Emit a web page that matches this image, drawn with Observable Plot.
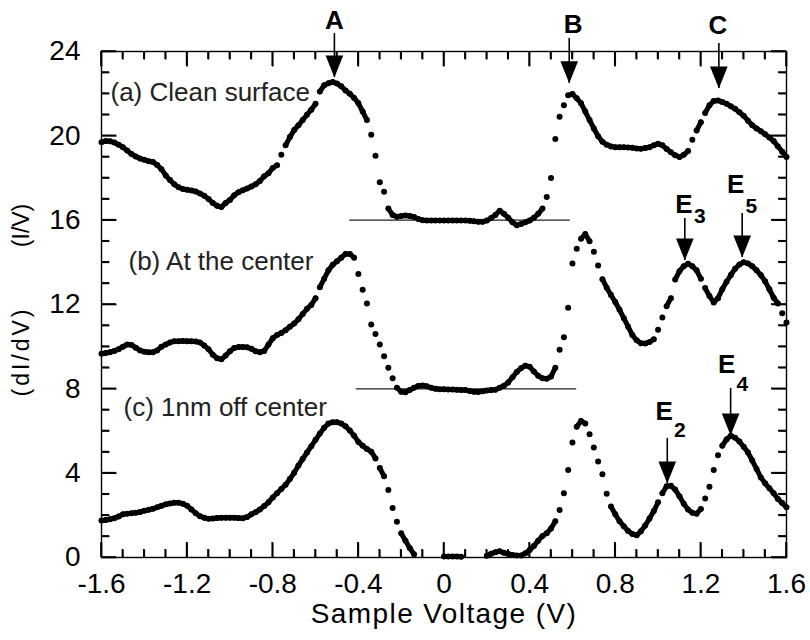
<!DOCTYPE html>
<html>
<head>
<meta charset="utf-8">
<script src="https://cdn.jsdelivr.net/npm/d3@7"></script>
<script src="https://cdn.jsdelivr.net/npm/@observablehq/plot@0.6"></script>
<style>
  html, body { margin: 0; padding: 0; background: #fff; }
  #chart svg { display: block; }
</style>
</head>
<body>
<div id="chart"></div>
<script>
// Sample voltage grid (V), 0.02 V steps from -1.6 to 1.6
const voltage = d3.range(161).map(i => Math.round((-1.6 + i * 0.02) * 100) / 100);

// (a) Clean surface
const curveA = [
  19.70, 19.76, 19.74, 19.68, 19.58, 19.46, 19.30, 19.14, 19.02, 18.92,
  18.86, 18.80, 18.76, 18.62, 18.42, 18.12, 17.90, 17.70, 17.56, 17.48,
  17.44, 17.41, 17.36, 17.26, 17.16, 17.00, 16.82, 16.68, 16.62, 16.82,
  16.96, 17.18, 17.33, 17.42, 17.50, 17.60, 17.70, 17.86, 18.08, 18.22,
  18.48, 18.60, 19.10, 19.55, 19.94, 20.28, 20.50, 20.75, 21.00, 21.24,
  21.52, 22.10, 22.40, 22.50, 22.55, 22.48, 22.35, 22.15, 22.00, 21.80,
  21.55, 21.15, 20.75, 20.05, 19.06, 17.80, 17.35, 16.55, 16.25, 16.16,
  16.20, 16.22, 16.20, 16.15, 16.05, 16.00, 15.99, 15.98, 15.98, 15.99,
  15.98, 15.99, 15.98, 15.99, 15.99, 15.98, 15.97, 15.95, 15.93, 15.92,
  15.98, 16.10, 16.25, 16.45, 16.30, 16.12, 15.90, 15.76, 15.82, 15.90,
  15.98, 16.12, 16.30, 16.55, 17.10, 18.00, 19.85, 20.90, 21.45, 21.92,
  21.98, 21.78, 21.55, 21.15, 20.75, 20.35, 19.98, 19.72, 19.58, 19.50,
  19.46, 19.46, 19.46, 19.45, 19.43, 19.40, 19.39, 19.42, 19.46, 19.55,
  19.62, 19.55, 19.38, 19.22, 19.08, 19.00, 19.10, 19.28, 19.82, 20.25,
  20.65, 21.08, 21.45, 21.65, 21.68, 21.60, 21.52, 21.40, 21.28, 21.12,
  20.95, 20.72, 20.50, 20.35, 20.22, 20.08, 19.92, 19.75, 19.50, 19.25,
  19.00
];

// (b) At the center
const curveB = [
  9.66, 9.70, 9.74, 9.80, 9.88, 10.00, 10.10, 10.08, 9.95, 9.82,
  9.76, 9.74, 9.74, 9.82, 10.00, 10.10, 10.20, 10.26, 10.26, 10.27,
  10.26, 10.26, 10.24, 10.20, 10.05, 9.88, 9.62, 9.45, 9.40, 9.58,
  9.78, 9.94, 9.98, 9.98, 9.97, 9.90, 9.78, 9.74, 9.80, 10.10,
  10.40, 10.55, 10.65, 10.78, 10.95, 11.10, 11.30, 11.55, 11.80, 11.98,
  12.30, 12.82, 13.22, 13.62, 13.88, 14.05, 14.22, 14.40, 14.40, 14.22,
  13.45, 12.70, 12.05, 11.05, 10.60, 10.10, 9.55, 9.00, 8.50, 8.05,
  7.86, 7.84, 7.95, 8.05, 8.14, 8.16, 8.12, 8.05, 8.00, 7.98,
  7.98, 7.97, 7.97, 7.96, 7.95, 7.94, 7.90, 7.86, 7.85, 7.88,
  7.92, 7.94, 7.96, 8.05, 8.15, 8.30, 8.55, 8.80, 8.98, 9.10,
  9.05, 8.82, 8.62, 8.50, 8.48, 8.58, 9.00, 9.85, 10.45, 11.85,
  13.95, 14.65, 15.12, 15.34, 15.00, 14.50, 13.85, 13.20, 12.80, 12.45,
  12.12, 11.75, 11.35, 10.95, 10.55, 10.30, 10.16, 10.15, 10.22, 10.35,
  10.80, 11.38, 11.92, 12.30, 13.18, 13.58, 13.82, 13.93, 13.82, 13.62,
  13.22, 12.78, 12.40, 12.10, 12.30, 12.72, 13.08, 13.40, 13.70, 13.90,
  14.00, 13.95, 13.82, 13.62, 13.40, 13.10, 12.72, 12.32, 12.05, 11.58,
  11.15
];

// (c) 1nm off center (null = below the axis, not shown)
const curveC = [
  1.76, 1.78, 1.82, 1.86, 1.95, 2.05, 2.08, 2.10, 2.12, 2.16,
  2.22, 2.26, 2.31, 2.38, 2.45, 2.52, 2.56, 2.60, 2.60, 2.55,
  2.45, 2.28, 2.10, 1.96, 1.88, 1.84, 1.85, 1.87, 1.88, 1.88,
  1.88, 1.88, 1.87, 1.86, 1.92, 2.05, 2.15, 2.28, 2.44, 2.62,
  2.85, 3.05, 3.25, 3.45, 3.72, 4.02, 4.36, 4.68, 4.98, 5.28,
  5.58, 5.88, 6.15, 6.35, 6.42, 6.42, 6.35, 6.22, 6.02, 5.78,
  5.48, 5.30, 5.15, 5.02, 4.70, 4.25, 3.85, 3.20, 2.35, 1.70,
  1.15, 0.80, 0.45, 0.15, null, null, null, null, null, null,
  0.05, 0.05, 0.05, 0.05, 0.03, null, null, null, null, null,
  0.08, 0.18, 0.25, 0.30, 0.22, 0.17, 0.12, 0.10, 0.10, 0.20,
  0.35, 0.55, 0.80, 1.02, 1.15, 1.38, 1.72, 2.25, 3.05, 4.15,
  5.45, 6.20, 6.48, 6.35, 5.85, 5.22, 4.55, 3.95, 3.02, 2.42,
  2.05, 1.72, 1.48, 1.26, 1.12, 1.05, 1.25, 1.52, 1.85, 2.20,
  2.62, 3.05, 3.38, 3.40, 3.22, 2.90, 2.55, 2.28, 2.12, 2.08,
  2.30, 2.80, 3.35, 4.15, 4.85, 5.30, 5.60, 5.78, 5.68, 5.50,
  5.25, 4.98, 4.60, 4.20, 3.80, 3.52, 3.28, 3.05, 2.78, 2.58,
  2.38
];

// Curve labels
const curveLabels = ["(a) Clean surface", "(b) At the center", "(c) 1nm off center"];
const curveLabelX = [-1.558, -1.474, -1.497];
const curveLabelY = [22.06, 14.01, 7.10];

// Zero-level reference lines for (a) and (b)
const baseLevel = [16, 8];
const baseFrom = [-0.44, -0.41];
const baseTo = [0.59, 0.62];

// Peak markers
const peakNames = ["A", "B", "C", "E", "E", "E", "E"];
const peakSubs = ["", "", "", "3", "5", "2", "4"];
const peakX = [-0.512, 0.585, 1.284, 1.125, 1.393, 1.043, 1.339];
const peakLabelX = [-0.512, 0.603, 1.280, 1.121, 1.362, 1.028, 1.320];
const peakLabelY = [25.45, 25.28, 25.24, 16.75, 17.69, 6.93, 9.16];
const peakSubY = [null, null, null, 16.20, 16.67, 6.05, 8.23];
const peakTop = [24.86, 24.62, 24.38, 16.08, 16.32, 5.65, 8.02];
const peakTip = [22.77, 22.49, 22.25, 14.09, 14.23, 3.51, 5.79];

// Axes
const xTicks = [-1.6, -1.2, -0.8, -0.4, 0, 0.4, 0.8, 1.2, 1.6];
const xTickLabels = ["-1.6", "-1.2", "-0.8", "-0.4", "0", "0.4", "0.8", "1.2", "1.6"];
const xMinor = d3.range(-15, 16).filter(i => i % 4 !== 0).map(i => i / 10);
const yTicks = [0, 4, 8, 12, 16, 20, 24];
const yTickLabels = ["0", "4", "8", "12", "16", "20", "24"];
const yMinor = d3.range(1, 24).filter(i => i % 4 !== 0);
const xTitle = "Sample Voltage (V)";
const yTitleParts = ["(dI/dV)", "(I/V)"];
const yTitleX = [-1.975, -1.975];
const yTitleY = [9.77, 15.75];

// ---- build tables ----
const points = [];
const joins = [];   // dense neighbouring samples merge into a solid trace, as in the scan
[curveA, curveB, curveC].forEach((arr, k) => {
  arr.forEach((v, i) => {
    if (v == null) return;
    points.push({x: voltage[i], y: v, s: k});
    const w = arr[i + 1];
    if (w != null && Math.abs(w - v) <= 0.42) joins.push({x1: voltage[i], y1: v, x2: voltage[i + 1], y2: w});
  });
});
const labels = curveLabels.map((t, i) => ({t, x: curveLabelX[i], y: curveLabelY[i]}));
const bases = baseLevel.map((y, i) => ({y, x1: baseFrom[i], x2: baseTo[i]}));
const peaks = peakNames.map((n, i) => ({
  name: n, sub: peakSubs[i], x: peakX[i], lx: peakLabelX[i], ly: peakLabelY[i],
  sy: peakSubY[i], top: peakTop[i], tip: peakTip[i]
}));
const subs = peaks.filter(d => d.sub);
const yTitles = yTitleParts.map((t, i) => ({t, x: yTitleX[i], y: yTitleY[i]}));

const tickSegs = [
  ...xMinor.map(v => ({axis: "x", v, len: 8})),
  ...xTicks.map(v => ({axis: "x", v, len: 15})),
  ...yMinor.map(v => ({axis: "y", v, len: 8})),
  ...yTicks.map(v => ({axis: "y", v, len: 15}))
];

const W = 810, H = 640;
const mL = 101, mR = 24, mT = 51, mB = 83;
const pw = W - mL - mR, ph = H - mT - mB;
const xFmt = d => xTickLabels[xTicks.indexOf(d)];
const yFmt = d => yTickLabels[yTicks.indexOf(d)];
const dy = px => px / ph * 24, dx = px => px / pw * 3.2;
const xt = tickSegs.filter(d => d.axis === "x");
const yt = tickSegs.filter(d => d.axis === "y");

// arrowhead symbol: tip at the anchor point, pointing down
const arrowHead = {
  draw(context, size) {
    const r = Math.sqrt(size / Math.PI);
    const w = r * 0.8, h = r * 2;
    context.moveTo(0, 0);
    context.lineTo(-w, -h);
    context.lineTo(w, -h);
    context.closePath();
  }
};

const tickStyle = {stroke: "black", strokeWidth: 1.6};

const chart = Plot.plot({
  width: W, height: H,
  marginLeft: mL, marginRight: mR, marginTop: mT, marginBottom: mB,
  style: {fontFamily: "'Liberation Sans', Arial, Helvetica, sans-serif", fontSize: "28px", color: "black", background: "white"},
  x: {domain: [-1.6, 1.6], axis: null},
  y: {domain: [0, 24], axis: null},
  marks: [
    Plot.axisX(xTicks, {anchor: "bottom", tickSize: 0, tickPadding: 16, tickFormat: xFmt, fontSize: 28, fill: "black"}),
    Plot.axisY(yTicks, {anchor: "left", tickSize: 0, tickPadding: 21, tickFormat: yFmt, fontSize: 28, fill: "black"}),
    Plot.ruleY(bases, {y: "y", x1: "x1", x2: "x2", stroke: "#222", strokeWidth: 1.2}),
    // spectra
    Plot.link(joins, {x1: "x1", y1: "y1", x2: "x2", y2: "y2", stroke: "black", strokeWidth: 5, strokeLinecap: "round"}),
    Plot.dot(points, {x: "x", y: "y", r: 3, fill: "black"}),
    Plot.text(labels, {x: "x", y: "y", text: "t", textAnchor: "start", fontSize: 26, fill: "#222"}),
    // peak arrows
    Plot.ruleX(peaks, {x: "x", y1: "top", y2: "tip", stroke: "black", strokeWidth: 1.6}),
    Plot.dot(peaks, {x: "x", y: "tip", symbol: arrowHead, r: 11, fill: "black", stroke: "none"}),
    Plot.text(peaks, {x: "lx", y: "ly", text: "name", fontSize: 26, fontWeight: "bold"}),
    Plot.text(subs, {x: "lx", y: "sy", text: "sub", dx: 10, textAnchor: "start", fontSize: 21, fontWeight: "bold"}),
    // axis titles
    Plot.text([xTitle], {text: d => d, frameAnchor: "bottom", dy: 65, fontSize: 28}),
    Plot.text(yTitles, {x: "x", y: "y", text: "t", rotate: -90, fontSize: 23}),
    // inward ticks on all four sides
    Plot.link(xt, {x1: "v", x2: "v", y1: () => 0, y2: d => dy(d.len), ...tickStyle}),
    Plot.link(xt, {x1: "v", x2: "v", y1: () => 24, y2: d => 24 - dy(d.len), ...tickStyle}),
    Plot.link(yt, {y1: "v", y2: "v", x1: () => -1.6, x2: d => -1.6 + dx(d.len), ...tickStyle}),
    Plot.link(yt, {y1: "v", y2: "v", x1: () => 1.6, x2: d => 1.6 - dx(d.len), ...tickStyle}),
    Plot.frame({stroke: "black", strokeWidth: 1.4})
  ]
});

const svg = d3.select(chart);
svg.selectAll("text").filter(function() { return this.textContent === xTitle; }).attr("letter-spacing", "1.4px");
svg.selectAll("text").filter(function() { return this.textContent === "(dI/dV)"; }).attr("letter-spacing", "3px");

// Reinforce the inward tick marks through the chart's own x and y scales
const sx = chart.scale("x"), sy = chart.scale("y");
const gT = svg.append("g").attr("stroke", "black").attr("stroke-width", 1.6);
xt.forEach(d => {
  const X = sx.apply(d.v);
  gT.append("line").attr("x1", X).attr("x2", X).attr("y1", sy.apply(0)).attr("y2", sy.apply(0) - d.len);
  gT.append("line").attr("x1", X).attr("x2", X).attr("y1", sy.apply(24)).attr("y2", sy.apply(24) + d.len);
});
yt.forEach(d => {
  const Y = sy.apply(d.v);
  gT.append("line").attr("y1", Y).attr("y2", Y).attr("x1", sx.apply(-1.6)).attr("x2", sx.apply(-1.6) + d.len);
  gT.append("line").attr("y1", Y).attr("y2", Y).attr("x1", sx.apply(1.6)).attr("x2", sx.apply(1.6) - d.len);
});
document.getElementById("chart").appendChild(chart);
</script>
</body>
</html>
